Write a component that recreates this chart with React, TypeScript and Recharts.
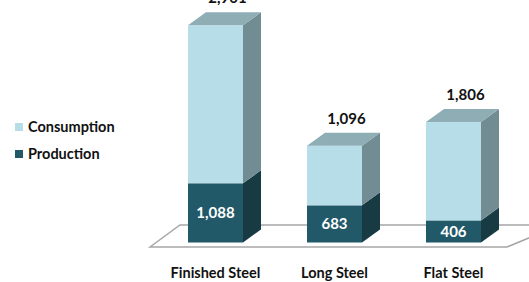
import React from 'react';
import { BarChart, Bar, XAxis, YAxis, LabelList } from 'recharts';

const categories = ['Finished Steel', 'Long Steel', 'Flat Steel'];
const production = [1088, 683, 406];
const consumption = [2901, 1096, 1806];

const data = categories.map((name, i) => ({
  name,
  production: production[i],
  consumption: consumption[i],
}));

const DX = 18;
const DY = 13;
const FONT = 'Lato, "Open Sans", sans-serif';

const COLORS = {
  consFront: '#b7dee8',
  consSide: '#718c92',
  consTop: '#8eadb5',
  prodFront: '#215968',
  prodSide: '#173a43',
};

const Box = (props: any) => {
  const { x, y, width, height, front, side, top } = props;
  if (!height || height <= 0) return null;
  const r = x + width;
  return (
    <g>
      <rect x={x} y={y} width={width} height={height} fill={front} />
      <polygon
        points={`${r},${y} ${r + DX},${y - DY} ${r + DX},${y + height - DY} ${r},${y + height}`}
        fill={side}
      />
      {top && (
        <polygon
          points={`${x},${y} ${x + DX},${y - DY} ${r + DX},${y - DY} ${r},${y}`}
          fill={top}
        />
      )}
    </g>
  );
};

const TopLabel = (props: any) => {
  const { x, y, width, value } = props;
  return (
    <text
      x={x + width / 2 + 12}
      y={y - DY - 9}
      textAnchor="middle"
      fontFamily={FONT}
      fontWeight="bold"
      fontSize={15}
      fill="#111"
    >
      {value.toLocaleString('en-US')}
    </text>
  );
};

const CategoryTick = (props: any) => {
  const { x, y, payload } = props;
  return (
    <text
      x={x}
      y={y + 27}
      textAnchor="middle"
      fontFamily={FONT}
      fontWeight="bold"
      fontSize={14.5}
      fill="#111"
    >
      {payload.value}
    </text>
  );
};

const legendItems = [
  { label: 'Consumption', color: COLORS.consFront },
  { label: 'Production', color: COLORS.prodFront },
];

const LegendBox = () => (
  <div
    style={{
      position: 'absolute',
      left: 15,
      top: 113,
      fontFamily: FONT,
      fontWeight: 'bold',
      fontSize: 14.5,
      color: '#111',
    }}
  >
    {legendItems.map((item) => (
      <div key={item.label} style={{ display: 'flex', alignItems: 'center', height: 27 }}>
        <span style={{ width: 8, height: 8, background: item.color, marginRight: 5 }} />
        {item.label}
      </div>
    ))}
  </div>
);

export default function App() {
  return (
    <div style={{ position: 'absolute', left: 0, top: 0, width: 529, height: 282, background: '#fff' }}>
      <svg width={529} height={282} style={{ position: 'absolute', left: 0, top: 0 }}>
        <polygon points="150,247 180,225 560,225 507,247" fill="#fff" stroke="#a6a6a6" strokeWidth={1.5} />
      </svg>
      <LegendBox />
      <div style={{ position: 'absolute', left: 0, top: 0 }}>
        <BarChart
          width={529}
          height={282}
          data={data}
          margin={{ top: 3, right: 16, left: 156, bottom: 0 }}
          barSize={55}
        >
          <XAxis dataKey="name" axisLine={false} tickLine={false} height={39.5} tick={<CategoryTick />} interval={0} />
          <YAxis hide domain={[0, 4400]} />
          <Bar
            dataKey="production"
            stackId="a"
            name="Production"
            fill={COLORS.prodFront}
            isAnimationActive={false}
            shape={(p: any) => <Box {...p} front={COLORS.prodFront} side={COLORS.prodSide} />}
          >
            <LabelList
              dataKey="production"
              position="center"
              fill="#fff"
              fontFamily={FONT}
              fontWeight="bold"
              fontSize={15}
              formatter={(v: any) => Number(v).toLocaleString('en-US')}
            />
          </Bar>
          <Bar
            dataKey="consumption"
            stackId="a"
            name="Consumption"
            fill={COLORS.consFront}
            isAnimationActive={false}
            shape={(p: any) => (
              <Box {...p} front={COLORS.consFront} side={COLORS.consSide} top={COLORS.consTop} />
            )}
          >
            <LabelList dataKey="consumption" content={<TopLabel />} />
          </Bar>
        </BarChart>
      </div>
    </div>
  );
}
